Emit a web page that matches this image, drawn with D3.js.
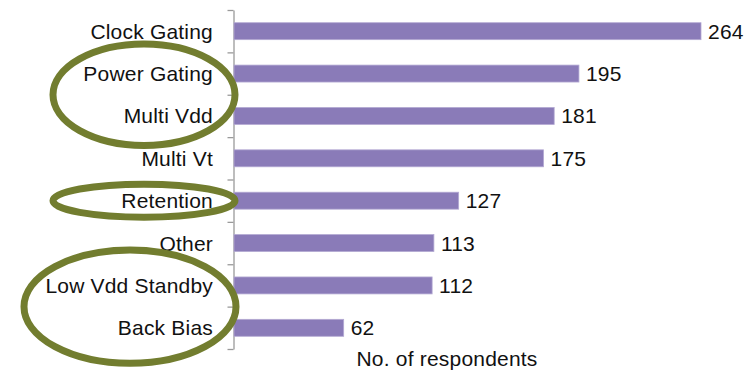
<!DOCTYPE html>
<html>
<head>
<meta charset="utf-8">
<script src="https://cdn.jsdelivr.net/npm/d3@7"></script>
<style>
  html, body { margin: 0; padding: 0; background: #fff; }
  svg { display: block; }
  text { font-family: "Liberation Sans", Arial, sans-serif; fill: #111; letter-spacing: 0.2px; }
</style>
</head>
<body>
<svg id="chart" width="755" height="371"></svg>
<script>
// Low-power techniques used, by number of respondents
const categories = ["Clock Gating", "Power Gating", "Multi Vdd", "Multi Vt",
                    "Retention", "Other", "Low Vdd Standby", "Back Bias"];
const respondents = [264, 195, 181, 175, 127, 113, 112, 62];
const axisTitle = "No. of respondents";
// Groups of techniques circled for emphasis
const highlightGroups = [
  ["Power Gating", "Multi Vdd"],
  ["Retention"],
  ["Low Vdd Standby", "Back Bias"]
];

const svg = d3.select("#chart");
const plotTop = 10, plotBottom = 349, axisX = 233.5;
const fontSize = 21;

const x = d3.scaleLinear().domain([0, 264]).range([234, 701]);
const y = d3.scaleBand().domain(categories)
  .range([plotTop, plotBottom]).paddingInner(0.6).paddingOuter(0.3);

// Category axis: ticks sit on band boundaries
const yEdges = d3.scaleLinear().domain([0, categories.length]).range([plotTop, plotBottom]);
const axisG = svg.append("g")
  .attr("transform", `translate(${axisX},0)`)
  .call(d3.axisLeft(yEdges).tickValues(d3.range(categories.length + 1))
    .tickFormat("").tickSizeInner(6).tickSizeOuter(0));
axisG.select(".domain").attr("stroke", "#9a9a9a").attr("stroke-width", 1.3);
axisG.selectAll(".tick line").attr("stroke", "#9a9a9a").attr("stroke-width", 1.3);

// Bars
svg.append("g").selectAll("rect")
  .data(categories)
  .join("rect")
  .attr("x", x(0))
  .attr("y", d => y(d))
  .attr("width", (d, i) => x(respondents[i]) - x(0))
  .attr("height", y.bandwidth())
  .attr("fill", "#8a7bb8")
  .attr("stroke", "#b3a9d3")
  .attr("stroke-width", 0.8);

// Value labels
svg.append("g").selectAll("text")
  .data(categories)
  .join("text")
  .attr("x", (d, i) => x(respondents[i]) + 7)
  .attr("y", d => y(d) + y.bandwidth() / 2)
  .attr("dy", "0.36em")
  .attr("font-size", fontSize)
  .text((d, i) => respondents[i]);

// Category labels
svg.append("g").selectAll("text")
  .data(categories)
  .join("text")
  .attr("x", 213)
  .attr("y", d => y(d) + y.bandwidth() / 2)
  .attr("dy", "0.36em")
  .attr("text-anchor", "end")
  .attr("font-size", fontSize)
  .text(d => d);

// Axis title
svg.append("text")
  .attr("x", 447)
  .attr("y", 366)
  .attr("text-anchor", "middle")
  .attr("font-size", fontSize)
  .text(axisTitle);

// Highlight ellipses around grouped labels
const ellipseShape = [
  { cx: 144, rx: 91, pad: 21 },
  { cx: 144, rx: 91, pad: 8 },
  { cx: 130, rx: 106, pad: 27 }
];
svg.append("g").selectAll("ellipse")
  .data(highlightGroups)
  .join("ellipse")
  .attr("cx", (g, i) => ellipseShape[i].cx)
  .attr("cy", g => (y(g[0]) + y(g[g.length - 1]) + y.bandwidth()) / 2)
  .attr("rx", (g, i) => ellipseShape[i].rx)
  .attr("ry", (g, i) => (y(g[g.length - 1]) - y(g[0]) + y.bandwidth()) / 2 + ellipseShape[i].pad)
  .attr("fill", "none")
  .attr("stroke", "#727d2f")
  .attr("stroke-width", 7);
</script>
</body>
</html>
